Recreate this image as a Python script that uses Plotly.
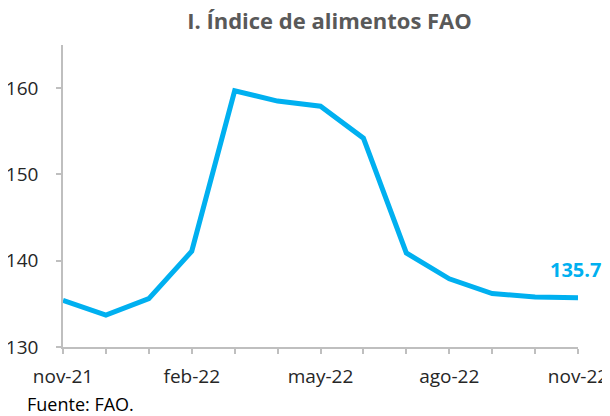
import plotly.graph_objects as go

months = ["nov-21", "dic-21", "ene-22", "feb-22", "mar-22", "abr-22", "may-22",
          "jun-22", "jul-22", "ago-22", "sep-22", "oct-22", "nov-22"]
values = [135.4, 133.7, 135.6, 141.1, 159.7, 158.5, 157.9, 154.2, 140.9, 137.9, 136.2, 135.8, 135.7]
y_ticks = [130, 140, 150, 160]

xs = list(range(len(months)))
ticktext = [m if i % 3 == 0 else "" for i, m in enumerate(months)]

fig = go.Figure()
fig.add_trace(go.Scatter(x=xs, y=values, mode="lines",
                         line=dict(color="#00B0F0", width=5), hoverinfo="skip"))

fig.add_annotation(x=xs[-1], y=values[-1], text="<b>%.1f</b>" % values[-1],
                   showarrow=False, xanchor="right", yanchor="middle", yshift=28, xshift=25,
                   font=dict(color="#00B0F0", size=20, family="Open Sans"))
fig.add_annotation(xref="paper", yref="paper", x=-0.074, y=-0.189, xanchor="left", yanchor="middle",
                   text="Fuente: FAO.", showarrow=False,
                   font=dict(color="#000000", size=18, family="Open Sans"))

fig.update_layout(
    template="none",
    width=610, height=416,
    margin=dict(l=55, r=40, t=37, b=77),
    paper_bgcolor="white", plot_bgcolor="white",
    showlegend=False,
    title=dict(text="<b>I. Índice de alimentos FAO</b>", x=0.527, xanchor="center", y=0.968, yanchor="middle",
               font=dict(color="#595959", size=22, family="Open Sans")),
    xaxis=dict(range=[0, 12], tickvals=xs, ticktext=ticktext, showgrid=False, zeroline=False,
               automargin=False,
               showline=True, linecolor="#BFBFBF", linewidth=1.5,
               ticks="outside", ticklen=5, tickcolor="#BFBFBF", tickwidth=1.5,
               ticklabelstandoff=6,
               tickfont=dict(color="#262626", size=19, family="Open Sans")),
    yaxis=dict(range=[130, 165], tickvals=y_ticks, showgrid=False, zeroline=False,
               automargin=False,
               showline=True, linecolor="#BFBFBF", linewidth=1.5,
               ticks="outside", ticklen=5, tickcolor="#BFBFBF", tickwidth=1.5,
               ticklabelstandoff=14,
               tickfont=dict(color="#262626", size=19, family="Open Sans")),
)
fig.write_html("out.html")
